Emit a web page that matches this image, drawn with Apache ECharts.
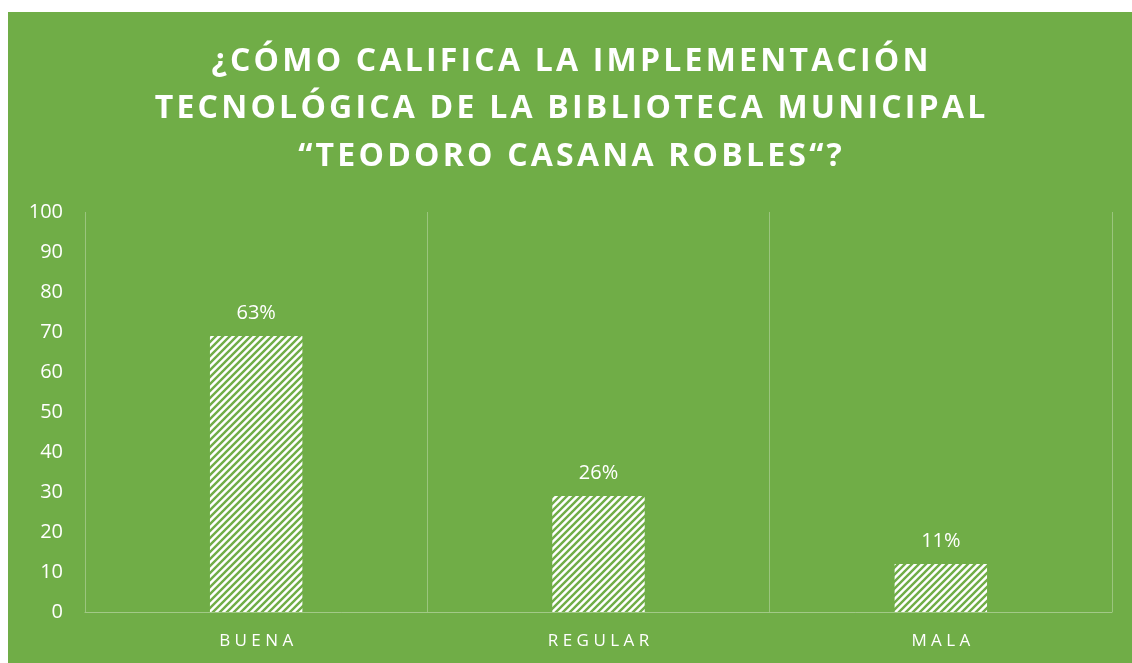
<!DOCTYPE html>
<html lang="es">
    <head>
        <meta charset="utf-8">
        <script src="https://cdn.jsdelivr.net/npm/echarts@6.0.0/dist/echarts.min.js"></script>
        <title>Implementación tecnológica</title>
        <style>
            html, body { margin: 0; padding: 0; background: #ffffff; }
            #chart { position: absolute; left: 8px; top: 12px; width: 1124px; height: 651px; }
        </style>
    </head>
    <body>
        <div id="chart"></div>
        <script>
            var categories = ['BUENA', 'REGULAR', 'MALA'];
            var values = [69, 29, 12];
            var percentLabels = ['63%', '26%', '11%'];
            var yTicks = [0, 10, 20, 30, 40, 50, 60, 70, 80, 90, 100];
            var titleLines = [
                '¿CÓMO CALIFICA LA IMPLEMENTACIÓN',
                'TECNOLÓGICA DE LA BIBLIOTECA MUNICIPAL',
                '“TEODORO CASANA ROBLES“?'
            ];

            var green = '#70AD47';
            var titleFont = 'bold 32px "Open Sans"';

            // striped fill like the excel "wide upward diagonal" pattern
            function makeStripes(){
                var c = document.createElement('canvas');
                c.width = 7;
                c.height = 7;
                var ctx = c.getContext('2d');
                ctx.fillStyle = '#ffffff';
                ctx.fillRect(0, 0, 7, 7);
                ctx.strokeStyle = green;
                ctx.lineWidth = 2.4;
                ctx.beginPath();
                ctx.moveTo(-7, 7); ctx.lineTo(7, -7);
                ctx.moveTo(0, 7); ctx.lineTo(7, 0);
                ctx.moveTo(0, 14); ctx.lineTo(14, 0);
                ctx.stroke();
                return c;
            }

            // no letter-spacing in echarts text, so pad with hair spaces
            function titleSpacer(){
                var ctx = document.createElement('canvas').getContext('2d');
                ctx.font = titleFont;
                var line = titleLines[1];
                var w0 = ctx.measureText(line).width;
                var hair = ctx.measureText('\u200A').width || 1;
                var gap = (855 - w0) / (line.length - 1);
                var n = Math.max(0, Math.round(gap / hair));
                return new Array(n + 1).join('\u200A');
            }

            function spaced(s, sep){
                return s.split('').join(sep);
            }

            var sp = titleSpacer();
            var titleText = titleLines.map(function(l){ return spaced(l, sp); }).join('\n');

            var chart = echarts.init(document.getElementById('chart'));
            chart.setOption({
                backgroundColor: green,
                animation: false,
                title: {
                    text: titleText,
                    left: 'center',
                    top: 21,
                    textStyle: {
                        color: '#ffffff',
                        fontFamily: 'Open Sans',
                        fontWeight: 'bold',
                        fontSize: 32,
                        lineHeight: 47.5
                    }
                },
                grid: { left: 77, right: 20, top: 200, bottom: 51 },
                xAxis: {
                    type: 'category',
                    data: categories,
                    axisLine: { lineStyle: { color: 'rgba(255,255,255,0.35)', width: 1 } },
                    axisTick: { show: false },
                    splitLine: { show: true, interval: 0, lineStyle: { color: 'rgba(255,255,255,0.3)' } },
                    axisLabel: {
                        color: '#ffffff',
                        fontFamily: 'Open Sans',
                        fontSize: 17,
                        margin: 21,
                        formatter: function(v){ return spaced(v, ' '); }
                    }
                },
                yAxis: {
                    type: 'value',
                    min: yTicks[0],
                    max: yTicks[yTicks.length - 1],
                    interval: 10,
                    axisLine: { show: false },
                    axisTick: { show: false },
                    splitLine: { show: false },
                    axisLabel: {
                        color: '#ffffff',
                        fontFamily: 'Open Sans',
                        fontSize: 20,
                        margin: 22
                    }
                },
                series: [{
                    type: 'bar',
                    data: values,
                    barWidth: '27%',
                    itemStyle: { color: { image: makeStripes(), repeat: 'repeat' } },
                    label: {
                        show: true,
                        position: 'top',
                        distance: 13,
                        color: '#ffffff',
                        fontFamily: 'Open Sans',
                        fontSize: 20,
                        formatter: function(p){ return percentLabels[p.dataIndex]; }
                    }
                }]
            });
        </script>
    </body>
</html>
